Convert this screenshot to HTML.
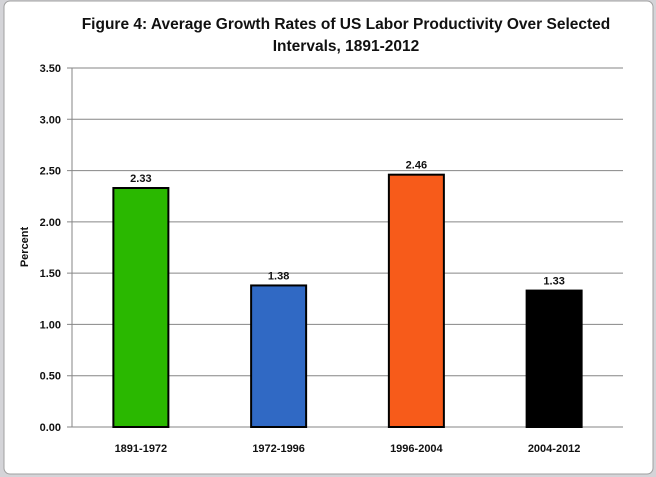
<!DOCTYPE html>
<html><head><meta charset="utf-8"><style>
html,body{margin:0;padding:0;background:#fff;width:656px;height:477px;overflow:hidden}
svg text{font-family:"Liberation Sans",Calibri,sans-serif}
</style></head><body>
<svg id="chart" width="656" height="477" xmlns="http://www.w3.org/2000/svg">
<rect x="0" y="0" width="656" height="477" fill="#d4d4d8"/>
<rect x="4" y="1" width="649" height="473" rx="6" fill="#fff" stroke="#a0a0a0"/>
<text x="346" y="29" text-anchor="middle" font-size="15.5" font-weight="bold" fill="#111">Figure 4: Average Growth Rates of US Labor Productivity Over Selected</text>
<text x="346" y="51" text-anchor="middle" font-size="15.5" font-weight="bold" fill="#111">Intervals, 1891-2012</text>
<text transform="translate(28,247) rotate(-90)" text-anchor="middle" font-size="11" font-weight="bold" fill="#111">Percent</text>
<g id="grid"></g><g id="bars"></g>
</svg>
<script>
const categories=["1891-1972","1972-1996","1996-2004","2004-2012"];
const values=[2.33,1.38,2.46,1.33];
const colors=["#2ab800","#3069c4","#f75b1a","#000000"];
const ticks=[0,0.5,1,1.5,2,2.5,3,3.5];
const tickLabels=["0.00","0.50","1.00","1.50","2.00","2.50","3.00","3.50"];
const NS="http://www.w3.org/2000/svg";
const x0=72,x1=623,yTop=68,yBot=427,yMax=3.5;
const y=v=>yBot-(v/yMax)*(yBot-yTop);
const band=(x1-x0)/categories.length;
const xc=i=>x0+band*(i+0.5);
function mk(t,a,p){const e=document.createElementNS(NS,t);for(const k in a)e.setAttribute(k,a[k]);p.appendChild(e);return e;}
const g=document.getElementById('grid'),b=document.getElementById('bars');
ticks.forEach((t,i)=>{
 const l=mk('line',{x1:x0-5,x2:x1,y1:y(t),y2:y(t),stroke:'#868686','stroke-width':1},g);
 
 
 const tx=mk('text',{x:x0-11,y:y(t)+4,'text-anchor':'end','font-size':11,'font-weight':'bold',fill:'#111'},g);
 tx.textContent=tickLabels[i];
 
 
});
const ax=mk('line',{x1:x0,x2:x0,y1:yTop,y2:yBot,stroke:'#868686'},g);


const bw=55;
categories.forEach((c,i)=>{
 const r=mk('rect',{x:xc(i)-bw/2,y:y(values[i]),width:bw,height:yBot-y(values[i]),fill:colors[i],stroke:'#000','stroke-width':2},b);
 
 
 const v=mk('text',{x:xc(i),y:y(values[i])-6,'text-anchor':'middle','font-size':11,'font-weight':'bold',fill:'#111'},b);
 v.textContent=values[i].toFixed(2);
 
 
 const t=mk('text',{x:xc(i),y:452,'text-anchor':'middle','font-size':11,'font-weight':'bold',fill:'#111'},b);
 t.textContent=c;
 
 
});
</script>
</body></html>
